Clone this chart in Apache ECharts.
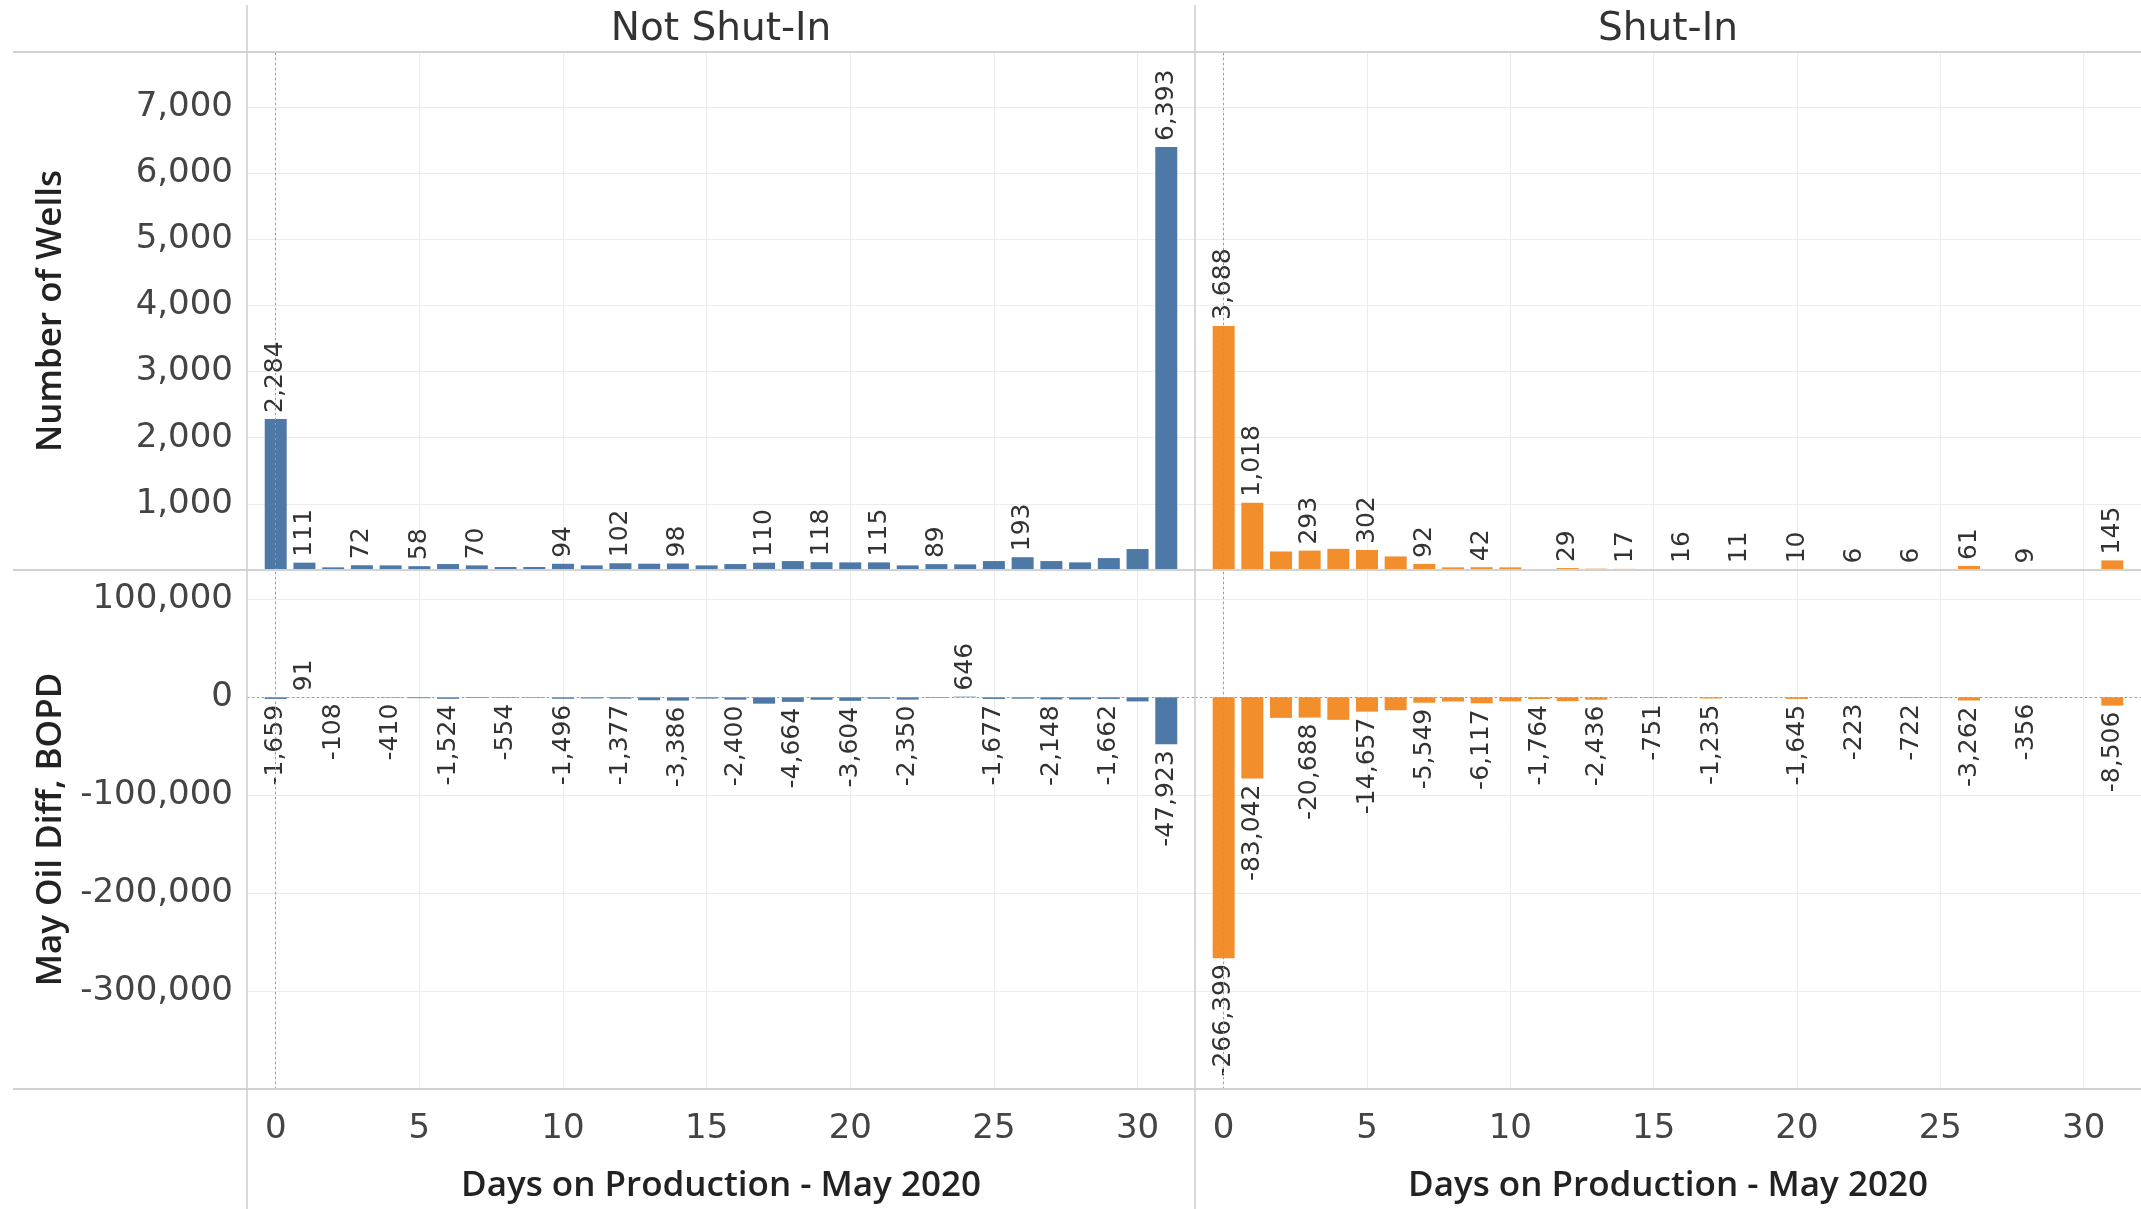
<!DOCTYPE html>
<html>
<head>
<meta charset="utf-8">
<script src="https://cdn.jsdelivr.net/npm/echarts@6/dist/echarts.min.js"></script>
<style>
html,body{margin:0;padding:0;background:#ffffff;}
#c{width:2141px;height:1209px;}
</style>
</head>
<body>
<div id="c"></div>
<script>
// ---- Data ----
const days = [0,1,2,3,4,5,6,7,8,9,10,11,12,13,14,15,16,17,18,19,20,21,22,23,24,25,26,27,28,29,30,31];

const notShutInWells = [2284,111,40,72,70,58,90,70,45,45,94,70,102,95,98,70,90,110,135,118,115,115,70,89,85,135,193,135,115,180,317,6393];
const notShutInOil = [-1659,91,-108,-400,-410,-900,-1524,-700,-554,-500,-1496,-1200,-1377,-3000,-3386,-1300,-2400,-6500,-4664,-2500,-3604,-1500,-2350,-600,646,-1677,-1400,-2148,-2200,-1662,-4200,-47923];
const shutInWells = [3688,1018,280,293,320,302,205,92,40,42,40,15,29,20,17,3,16,12,11,4,10,5,6,3,6,15,61,3,9,3,2,145];
const shutInOil = [-266399,-83042,-21000,-20688,-23000,-14657,-13200,-5549,-4300,-6117,-4100,-1764,-3900,-2436,-600,-751,-400,-1235,-300,-250,-1645,-400,-223,-200,-722,-500,-3262,-300,-356,-150,-100,-8506];

// days whose value label is shown in the reference
const notShutInWellsLabelDays = [0,1,3,5,7,10,12,14,17,19,21,23,26,31];
const notShutInOilLabelDays = [0,1,2,4,6,8,10,12,14,16,18,20,22,24,25,27,29,31];
const shutInWellsLabelDays = [0,1,3,5,7,9,12,14,16,18,20,22,24,26,28,31];
const shutInOilLabelDays = [0,1,3,5,7,9,11,13,15,17,20,22,24,26,28,31];

// tick labels
const dayTicks = [0,5,10,15,20,25,30];
const wellsTicks = [1000,2000,3000,4000,5000,6000,7000];
const oilTicks = [-300000,-200000,-100000,0,100000];

const columnHeaders = ['Not Shut-In','Shut-In'];
const rowTitles = ['Number of Wells','May Oil Diff, BOPD'];
const xTitle = 'Days on Production - May 2020';

// ---- Styling ----
const BLUE = '#4e79a7', ORANGE = '#f28e2b';
const TICK_FONT = 'DejaVu Sans';
const TITLE_FONT = 'Open Sans';
const fmt = v => Math.round(v).toLocaleString('en-US');

function buildData(values, labelDays) {
  return days.map((d, i) => {
    const v = values[i];
    const item = { value: [d, v] };
    if (labelDays.indexOf(d) >= 0) {
      item.label = v >= 0
        ? { show: true, position: 'top', rotate: 90, align: 'left', verticalAlign: 'middle', distance: 6 }
        : { show: true, position: 'bottom', rotate: 90, align: 'right', verticalAlign: 'middle', distance: 6 };
    }
    return item;
  });
}

const grids = [
  { left: 247, top: 52, width: 948, height: 518 },
  { left: 1195, top: 52, width: 946, height: 518 },
  { left: 247, top: 570, width: 948, height: 519 },
  { left: 1195, top: 570, width: 946, height: 519 }
];

function xAxis(gi, bottom) {
  return {
    type: 'value', gridIndex: gi, min: -1, max: 32,
    axisLine: { show: false },
    axisTick: { show: false, customValues: dayTicks },
    axisLabel: { show: bottom, customValues: dayTicks, fontFamily: TICK_FONT, fontSize: 34, color: '#444', margin: 23 },
    splitLine: { show: true, lineStyle: { color: '#ebebeb', width: 1 } },
    name: bottom ? xTitle : '',
    nameLocation: 'middle', nameGap: 80,
    nameTextStyle: { fontFamily: TITLE_FONT, fontWeight: 600, fontSize: 35, color: '#222' }
  };
}

function yAxis(gi, top, left) {
  const ticks = top ? wellsTicks : oilTicks;
  return {
    type: 'value', gridIndex: gi,
    min: top ? 0 : -400000, max: top ? 7830 : 130000,
    axisLine: { show: false },
    axisTick: { show: false, customValues: ticks },
    axisLabel: { show: left, customValues: ticks, formatter: v => fmt(v), fontFamily: TICK_FONT, fontSize: 34, color: '#444', margin: 14 },
    splitLine: { show: true, lineStyle: { color: '#ebebeb', width: 1 } },
    name: left ? (top ? rowTitles[0] : rowTitles[1]) : '',
    nameLocation: 'middle', nameGap: 178,
    nameTextStyle: { fontFamily: TITLE_FONT, fontWeight: 600, fontSize: 35, color: '#222' }
  };
}

function barSeries(idx, values, labelDays, color, isOil) {
  const ml = [{ xAxis: 0 }];
  if (isOil) ml.push({ yAxis: 0 });
  return {
    type: 'bar', xAxisIndex: idx, yAxisIndex: idx,
    barWidth: 22,
    itemStyle: { color: color },
    label: { show: false, formatter: p => fmt(p.value[1]), fontFamily: TICK_FONT, fontSize: 25, color: '#333' },
    data: buildData(values, labelDays),
    markLine: {
      silent: true, symbol: 'none', animation: false,
      label: { show: false },
      lineStyle: { color: '#9a9a9a', type: [2, 3], width: 1 },
      data: ml
    },
    z: 3
  };
}

const lineStyle = { stroke: '#d2d2d2', lineWidth: 2 };
const option = {
  animation: false,
  backgroundColor: '#ffffff',
  grid: grids,
  xAxis: [xAxis(0, false), xAxis(1, false), xAxis(2, true), xAxis(3, true)],
  yAxis: [yAxis(0, true, true), yAxis(1, true, false), yAxis(2, false, true), yAxis(3, false, false)],
  series: [
    barSeries(0, notShutInWells, notShutInWellsLabelDays, BLUE, false),
    barSeries(1, shutInWells, shutInWellsLabelDays, ORANGE, false),
    barSeries(2, notShutInOil, notShutInOilLabelDays, BLUE, true),
    barSeries(3, shutInOil, shutInOilLabelDays, ORANGE, true)
  ],
  graphic: [
    { type: 'line', z: 10, shape: { x1: 13, y1: 52, x2: 2141, y2: 52 }, style: lineStyle },
    { type: 'line', z: 10, shape: { x1: 13, y1: 570, x2: 2141, y2: 570 }, style: lineStyle },
    { type: 'line', z: 10, shape: { x1: 13, y1: 1089, x2: 2141, y2: 1089 }, style: lineStyle },
    { type: 'line', z: 10, shape: { x1: 247, y1: 5, x2: 247, y2: 1209 }, style: { stroke: '#cccccc', lineWidth: 1.5 } },
    { type: 'line', z: 10, shape: { x1: 1195, y1: 5, x2: 1195, y2: 1209 }, style: { stroke: '#cccccc', lineWidth: 1.5 } },
    { type: 'text', z: 10, x: 721, y: 30, style: { text: columnHeaders[0], font: '39px "DejaVu Sans"', fill: '#333', align: 'center', verticalAlign: 'middle', textAlign: 'center', textVerticalAlign: 'middle' } },
    { type: 'text', z: 10, x: 1668, y: 30, style: { text: columnHeaders[1], font: '39px "DejaVu Sans"', fill: '#333', align: 'center', verticalAlign: 'middle', textAlign: 'center', textVerticalAlign: 'middle' } }
  ]
};

const chart = echarts.init(document.getElementById('c'), null, { renderer: 'canvas' });
chart.setOption(option);
</script>
</body>
</html>
